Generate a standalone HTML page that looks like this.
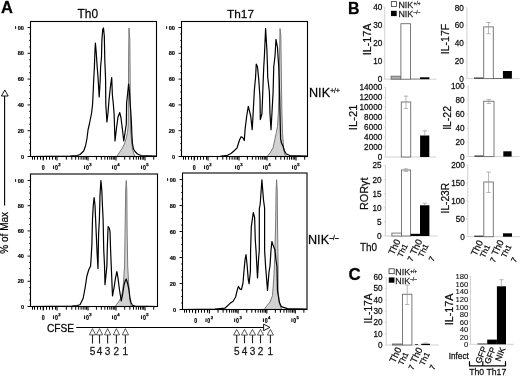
<!DOCTYPE html>
<html><head><meta charset="utf-8"><style>
html,body{margin:0;padding:0;background:#fff;}
body{width:520px;height:376px;overflow:hidden;}
svg{display:block;font-family:"Liberation Sans", sans-serif;will-change:transform;}
text{stroke:#000;stroke-width:0.28px;stroke-opacity:0.8;}
</style></head><body>
<svg width="520" height="376" viewBox="0 0 520 376" font-family='"Liberation Sans", sans-serif'>
<rect width="520" height="376" fill="#fff"/>
<text transform="translate(1.0,13.25)" font-size="16.5" font-weight="bold" fill="#000" >A</text>
<text transform="translate(77.6,18.15)" font-size="11.9" font-weight="normal" fill="#000" >Th0</text>
<text transform="translate(227.05,17.8)" font-size="11.83" font-weight="normal" fill="#000" >Th17</text>
<polygon points="117.00,156.50 118.00,154.50 120.00,151.50 122.50,148.00 124.40,144.00 126.00,139.00 127.50,132.50 128.20,126.00 128.40,100.00 128.60,60.00 129.00,28.00 129.80,40.00 130.10,70.00 130.30,100.00 130.60,130.00 131.50,141.00 132.50,149.00 133.75,153.50 135.00,156.50" fill="#d2d2d2" stroke="#7a7a7a" stroke-width="1" stroke-linejoin="round"/>
<polyline points="30.50,156.50 70.00,156.00 77.00,155.50 80.00,154.50 83.70,151.00 85.60,145.50 86.90,139.00 88.10,129.50 89.40,124.00 90.60,118.00 91.60,113.00 92.50,105.00 92.90,98.00 93.70,80.00 94.40,67.00 95.00,50.00 95.40,43.00 96.20,52.00 97.20,67.00 98.00,77.00 99.20,97.00 100.20,80.00 100.60,67.00 101.50,57.00 101.90,40.00 102.80,29.00 103.50,28.00 104.30,36.00 104.80,60.00 105.30,72.00 105.60,80.00 105.80,104.00 106.90,122.00 108.00,113.00 109.00,100.00 110.50,86.00 111.70,77.50 112.40,95.00 113.40,105.00 114.10,114.00 115.00,141.00 116.50,128.00 118.00,117.00 119.70,112.50 121.00,118.00 122.50,130.00 123.75,141.00 125.00,133.00 126.30,124.00 126.60,103.00 127.60,94.00 128.60,84.00 129.50,92.00 130.00,100.50 131.00,115.00 131.50,124.00 131.80,133.00 132.50,144.00 133.50,149.00 135.00,151.50 137.50,154.00 141.00,155.50 156.50,156.00" fill="none" stroke="#000" stroke-width="1.2" stroke-linejoin="round"/>
<rect x="30.50" y="21.50" width="126.00" height="135.00" fill="none" stroke="#000" stroke-width="1.1"/>
<line x1="27.50" y1="156.50" x2="30.50" y2="156.50" stroke="#000" stroke-width="0.9"/>
<text transform="translate(24.00,158.60) scale(0.85,0.85)" font-size="6.6" text-anchor="end" font-weight="bold" style="stroke-width:0.25px">0</text>
<line x1="29.20" y1="150.05" x2="30.50" y2="150.05" stroke="#000" stroke-width="0.9"/>
<line x1="29.20" y1="143.60" x2="30.50" y2="143.60" stroke="#000" stroke-width="0.9"/>
<line x1="29.20" y1="137.15" x2="30.50" y2="137.15" stroke="#000" stroke-width="0.9"/>
<line x1="27.50" y1="130.70" x2="30.50" y2="130.70" stroke="#000" stroke-width="0.9"/>
<text transform="translate(24.00,132.80) scale(0.85,0.85)" font-size="6.6" text-anchor="end" font-weight="bold" style="stroke-width:0.25px">20</text>
<line x1="29.20" y1="124.25" x2="30.50" y2="124.25" stroke="#000" stroke-width="0.9"/>
<line x1="29.20" y1="117.80" x2="30.50" y2="117.80" stroke="#000" stroke-width="0.9"/>
<line x1="29.20" y1="111.35" x2="30.50" y2="111.35" stroke="#000" stroke-width="0.9"/>
<line x1="27.50" y1="104.90" x2="30.50" y2="104.90" stroke="#000" stroke-width="0.9"/>
<text transform="translate(24.00,107.00) scale(0.85,0.85)" font-size="6.6" text-anchor="end" font-weight="bold" style="stroke-width:0.25px">40</text>
<line x1="29.20" y1="98.45" x2="30.50" y2="98.45" stroke="#000" stroke-width="0.9"/>
<line x1="29.20" y1="92.00" x2="30.50" y2="92.00" stroke="#000" stroke-width="0.9"/>
<line x1="29.20" y1="85.55" x2="30.50" y2="85.55" stroke="#000" stroke-width="0.9"/>
<line x1="27.50" y1="79.10" x2="30.50" y2="79.10" stroke="#000" stroke-width="0.9"/>
<text transform="translate(24.00,81.20) scale(0.85,0.85)" font-size="6.6" text-anchor="end" font-weight="bold" style="stroke-width:0.25px">60</text>
<line x1="29.20" y1="72.65" x2="30.50" y2="72.65" stroke="#000" stroke-width="0.9"/>
<line x1="29.20" y1="66.20" x2="30.50" y2="66.20" stroke="#000" stroke-width="0.9"/>
<line x1="29.20" y1="59.75" x2="30.50" y2="59.75" stroke="#000" stroke-width="0.9"/>
<line x1="27.50" y1="53.30" x2="30.50" y2="53.30" stroke="#000" stroke-width="0.9"/>
<text transform="translate(24.00,55.40) scale(0.85,0.85)" font-size="6.6" text-anchor="end" font-weight="bold" style="stroke-width:0.25px">80</text>
<line x1="29.20" y1="46.85" x2="30.50" y2="46.85" stroke="#000" stroke-width="0.9"/>
<line x1="29.20" y1="40.40" x2="30.50" y2="40.40" stroke="#000" stroke-width="0.9"/>
<line x1="29.20" y1="33.95" x2="30.50" y2="33.95" stroke="#000" stroke-width="0.9"/>
<line x1="27.50" y1="27.50" x2="30.50" y2="27.50" stroke="#000" stroke-width="0.9"/>
<text transform="translate(24.00,29.60) scale(0.85,0.85)" font-size="6.6" text-anchor="end" font-weight="bold" style="stroke-width:0.25px">00</text>
<rect x="15.10" y="26.20" width="1" height="2.6" fill="#000"/>
<line x1="43.20" y1="156.50" x2="43.20" y2="160.50" stroke="#000" stroke-width="1.1"/>
<line x1="57.00" y1="156.50" x2="57.00" y2="160.50" stroke="#000" stroke-width="1.1"/>
<line x1="88.00" y1="156.50" x2="88.00" y2="160.50" stroke="#000" stroke-width="1.1"/>
<line x1="116.00" y1="156.50" x2="116.00" y2="160.50" stroke="#000" stroke-width="1.1"/>
<line x1="145.00" y1="156.50" x2="145.00" y2="160.50" stroke="#000" stroke-width="1.1"/>
<line x1="28.00" y1="156.50" x2="30.50" y2="156.50" stroke="#000" stroke-width="1"/>
<line x1="66.33" y1="156.50" x2="66.33" y2="159.70" stroke="#000" stroke-width="1"/>
<line x1="71.79" y1="156.50" x2="71.79" y2="159.70" stroke="#000" stroke-width="1"/>
<line x1="75.66" y1="156.50" x2="75.66" y2="159.70" stroke="#000" stroke-width="1"/>
<line x1="78.67" y1="156.50" x2="78.67" y2="159.70" stroke="#000" stroke-width="1"/>
<line x1="81.12" y1="156.50" x2="81.12" y2="159.70" stroke="#000" stroke-width="1"/>
<line x1="83.20" y1="156.50" x2="83.20" y2="159.70" stroke="#000" stroke-width="1"/>
<line x1="85.00" y1="156.50" x2="85.00" y2="159.70" stroke="#000" stroke-width="1"/>
<line x1="86.58" y1="156.50" x2="86.58" y2="159.70" stroke="#000" stroke-width="1"/>
<line x1="96.43" y1="156.50" x2="96.43" y2="159.70" stroke="#000" stroke-width="1"/>
<line x1="101.36" y1="156.50" x2="101.36" y2="159.70" stroke="#000" stroke-width="1"/>
<line x1="104.86" y1="156.50" x2="104.86" y2="159.70" stroke="#000" stroke-width="1"/>
<line x1="107.57" y1="156.50" x2="107.57" y2="159.70" stroke="#000" stroke-width="1"/>
<line x1="109.79" y1="156.50" x2="109.79" y2="159.70" stroke="#000" stroke-width="1"/>
<line x1="111.66" y1="156.50" x2="111.66" y2="159.70" stroke="#000" stroke-width="1"/>
<line x1="113.29" y1="156.50" x2="113.29" y2="159.70" stroke="#000" stroke-width="1"/>
<line x1="114.72" y1="156.50" x2="114.72" y2="159.70" stroke="#000" stroke-width="1"/>
<line x1="124.73" y1="156.50" x2="124.73" y2="159.70" stroke="#000" stroke-width="1"/>
<line x1="129.84" y1="156.50" x2="129.84" y2="159.70" stroke="#000" stroke-width="1"/>
<line x1="133.46" y1="156.50" x2="133.46" y2="159.70" stroke="#000" stroke-width="1"/>
<line x1="136.27" y1="156.50" x2="136.27" y2="159.70" stroke="#000" stroke-width="1"/>
<line x1="138.57" y1="156.50" x2="138.57" y2="159.70" stroke="#000" stroke-width="1"/>
<line x1="140.51" y1="156.50" x2="140.51" y2="159.70" stroke="#000" stroke-width="1"/>
<line x1="142.19" y1="156.50" x2="142.19" y2="159.70" stroke="#000" stroke-width="1"/>
<line x1="143.67" y1="156.50" x2="143.67" y2="159.70" stroke="#000" stroke-width="1"/>
<line x1="153.73" y1="156.50" x2="153.73" y2="159.70" stroke="#000" stroke-width="1"/>
<line x1="32.50" y1="156.50" x2="32.50" y2="159.70" stroke="#000" stroke-width="1"/>
<line x1="34.50" y1="156.50" x2="34.50" y2="159.70" stroke="#000" stroke-width="1"/>
<line x1="37.50" y1="156.50" x2="37.50" y2="159.70" stroke="#000" stroke-width="1"/>
<line x1="40.50" y1="156.50" x2="40.50" y2="159.70" stroke="#000" stroke-width="1"/>
<line x1="43.50" y1="156.50" x2="43.50" y2="159.70" stroke="#000" stroke-width="1"/>
<line x1="46.50" y1="156.50" x2="46.50" y2="159.70" stroke="#000" stroke-width="1"/>
<line x1="49.50" y1="156.50" x2="49.50" y2="159.70" stroke="#000" stroke-width="1"/>
<line x1="52.50" y1="156.50" x2="52.50" y2="159.70" stroke="#000" stroke-width="1"/>
<line x1="55.50" y1="156.50" x2="55.50" y2="159.70" stroke="#000" stroke-width="1"/>
<text transform="translate(43.20,169.90) scale(0.8,0.97)" font-size="6.6" text-anchor="middle" font-weight="bold" style="stroke-width:0.25px">0</text>
<text transform="translate(57.90,169.90) scale(0.8,0.97)" font-size="6.6" text-anchor="end" font-weight="bold" style="stroke-width:0.25px">0</text>
<rect x="53.10" y="165.40" width="1" height="3.6" fill="#000"/>
<text x="58.30" y="165.90" font-size="4.2" font-weight="bold" style="stroke-width:0.25px">2</text>
<text transform="translate(88.90,169.90) scale(0.8,0.97)" font-size="6.6" text-anchor="end" font-weight="bold" style="stroke-width:0.25px">0</text>
<rect x="84.10" y="165.40" width="1" height="3.6" fill="#000"/>
<text x="89.30" y="165.90" font-size="4.2" font-weight="bold" style="stroke-width:0.25px">3</text>
<text transform="translate(116.90,169.90) scale(0.8,0.97)" font-size="6.6" text-anchor="end" font-weight="bold" style="stroke-width:0.25px">0</text>
<rect x="112.10" y="165.40" width="1" height="3.6" fill="#000"/>
<text x="117.30" y="165.90" font-size="4.2" font-weight="bold" style="stroke-width:0.25px">4</text>
<text transform="translate(145.90,169.90) scale(0.8,0.97)" font-size="6.6" text-anchor="end" font-weight="bold" style="stroke-width:0.25px">0</text>
<rect x="141.10" y="165.40" width="1" height="3.6" fill="#000"/>
<text x="146.30" y="165.90" font-size="4.2" font-weight="bold" style="stroke-width:0.25px">5</text>
<polygon points="267.00,156.50 268.10,155.30 270.00,153.00 273.00,148.00 276.25,132.75 277.50,126.50 278.50,110.00 279.30,70.00 280.00,28.50 280.80,35.00 281.30,70.00 281.90,114.00 282.50,132.75 283.75,150.00 285.00,155.00 287.00,156.50" fill="#d2d2d2" stroke="#7a7a7a" stroke-width="1" stroke-linejoin="round"/>
<polyline points="181.50,156.50 220.00,156.30 227.50,155.30 231.00,153.50 233.90,151.00 237.10,147.80 239.50,140.00 241.10,136.70 242.70,137.50 244.30,140.50 245.10,129.00 246.70,116.00 248.30,106.40 250.70,116.00 252.20,129.60 253.10,114.00 253.75,102.00 254.40,89.50 255.60,77.00 256.25,64.00 257.50,67.00 258.75,79.50 260.00,98.00 260.30,119.60 261.90,114.00 262.50,100.00 263.10,83.00 263.75,67.00 264.40,56.00 265.60,28.50 266.90,50.00 267.50,67.00 267.70,77.00 269.40,92.00 270.00,114.00 271.00,129.60 271.90,114.00 273.10,92.00 273.75,67.00 275.00,56.00 276.00,39.40 277.50,47.50 278.10,57.50 278.75,67.00 279.40,86.00 280.00,114.00 280.60,139.00 281.50,143.00 283.10,146.50 284.50,151.00 286.25,154.00 290.00,155.50 307.50,156.00" fill="none" stroke="#000" stroke-width="1.2" stroke-linejoin="round"/>
<rect x="181.50" y="21.50" width="126.00" height="135.00" fill="none" stroke="#000" stroke-width="1.1"/>
<line x1="178.50" y1="156.50" x2="181.50" y2="156.50" stroke="#000" stroke-width="0.9"/>
<text transform="translate(175.00,158.60) scale(0.85,0.85)" font-size="6.6" text-anchor="end" font-weight="bold" style="stroke-width:0.25px">0</text>
<line x1="180.20" y1="150.05" x2="181.50" y2="150.05" stroke="#000" stroke-width="0.9"/>
<line x1="180.20" y1="143.60" x2="181.50" y2="143.60" stroke="#000" stroke-width="0.9"/>
<line x1="180.20" y1="137.15" x2="181.50" y2="137.15" stroke="#000" stroke-width="0.9"/>
<line x1="178.50" y1="130.70" x2="181.50" y2="130.70" stroke="#000" stroke-width="0.9"/>
<text transform="translate(175.00,132.80) scale(0.85,0.85)" font-size="6.6" text-anchor="end" font-weight="bold" style="stroke-width:0.25px">20</text>
<line x1="180.20" y1="124.25" x2="181.50" y2="124.25" stroke="#000" stroke-width="0.9"/>
<line x1="180.20" y1="117.80" x2="181.50" y2="117.80" stroke="#000" stroke-width="0.9"/>
<line x1="180.20" y1="111.35" x2="181.50" y2="111.35" stroke="#000" stroke-width="0.9"/>
<line x1="178.50" y1="104.90" x2="181.50" y2="104.90" stroke="#000" stroke-width="0.9"/>
<text transform="translate(175.00,107.00) scale(0.85,0.85)" font-size="6.6" text-anchor="end" font-weight="bold" style="stroke-width:0.25px">40</text>
<line x1="180.20" y1="98.45" x2="181.50" y2="98.45" stroke="#000" stroke-width="0.9"/>
<line x1="180.20" y1="92.00" x2="181.50" y2="92.00" stroke="#000" stroke-width="0.9"/>
<line x1="180.20" y1="85.55" x2="181.50" y2="85.55" stroke="#000" stroke-width="0.9"/>
<line x1="178.50" y1="79.10" x2="181.50" y2="79.10" stroke="#000" stroke-width="0.9"/>
<text transform="translate(175.00,81.20) scale(0.85,0.85)" font-size="6.6" text-anchor="end" font-weight="bold" style="stroke-width:0.25px">60</text>
<line x1="180.20" y1="72.65" x2="181.50" y2="72.65" stroke="#000" stroke-width="0.9"/>
<line x1="180.20" y1="66.20" x2="181.50" y2="66.20" stroke="#000" stroke-width="0.9"/>
<line x1="180.20" y1="59.75" x2="181.50" y2="59.75" stroke="#000" stroke-width="0.9"/>
<line x1="178.50" y1="53.30" x2="181.50" y2="53.30" stroke="#000" stroke-width="0.9"/>
<text transform="translate(175.00,55.40) scale(0.85,0.85)" font-size="6.6" text-anchor="end" font-weight="bold" style="stroke-width:0.25px">80</text>
<line x1="180.20" y1="46.85" x2="181.50" y2="46.85" stroke="#000" stroke-width="0.9"/>
<line x1="180.20" y1="40.40" x2="181.50" y2="40.40" stroke="#000" stroke-width="0.9"/>
<line x1="180.20" y1="33.95" x2="181.50" y2="33.95" stroke="#000" stroke-width="0.9"/>
<line x1="178.50" y1="27.50" x2="181.50" y2="27.50" stroke="#000" stroke-width="0.9"/>
<text transform="translate(175.00,29.60) scale(0.85,0.85)" font-size="6.6" text-anchor="end" font-weight="bold" style="stroke-width:0.25px">00</text>
<rect x="166.10" y="26.20" width="1" height="2.6" fill="#000"/>
<line x1="194.20" y1="156.50" x2="194.20" y2="160.50" stroke="#000" stroke-width="1.1"/>
<line x1="208.00" y1="156.50" x2="208.00" y2="160.50" stroke="#000" stroke-width="1.1"/>
<line x1="239.00" y1="156.50" x2="239.00" y2="160.50" stroke="#000" stroke-width="1.1"/>
<line x1="267.00" y1="156.50" x2="267.00" y2="160.50" stroke="#000" stroke-width="1.1"/>
<line x1="296.00" y1="156.50" x2="296.00" y2="160.50" stroke="#000" stroke-width="1.1"/>
<line x1="179.00" y1="156.50" x2="181.50" y2="156.50" stroke="#000" stroke-width="1"/>
<line x1="217.33" y1="156.50" x2="217.33" y2="159.70" stroke="#000" stroke-width="1"/>
<line x1="222.79" y1="156.50" x2="222.79" y2="159.70" stroke="#000" stroke-width="1"/>
<line x1="226.66" y1="156.50" x2="226.66" y2="159.70" stroke="#000" stroke-width="1"/>
<line x1="229.67" y1="156.50" x2="229.67" y2="159.70" stroke="#000" stroke-width="1"/>
<line x1="232.12" y1="156.50" x2="232.12" y2="159.70" stroke="#000" stroke-width="1"/>
<line x1="234.20" y1="156.50" x2="234.20" y2="159.70" stroke="#000" stroke-width="1"/>
<line x1="236.00" y1="156.50" x2="236.00" y2="159.70" stroke="#000" stroke-width="1"/>
<line x1="237.58" y1="156.50" x2="237.58" y2="159.70" stroke="#000" stroke-width="1"/>
<line x1="247.43" y1="156.50" x2="247.43" y2="159.70" stroke="#000" stroke-width="1"/>
<line x1="252.36" y1="156.50" x2="252.36" y2="159.70" stroke="#000" stroke-width="1"/>
<line x1="255.86" y1="156.50" x2="255.86" y2="159.70" stroke="#000" stroke-width="1"/>
<line x1="258.57" y1="156.50" x2="258.57" y2="159.70" stroke="#000" stroke-width="1"/>
<line x1="260.79" y1="156.50" x2="260.79" y2="159.70" stroke="#000" stroke-width="1"/>
<line x1="262.66" y1="156.50" x2="262.66" y2="159.70" stroke="#000" stroke-width="1"/>
<line x1="264.29" y1="156.50" x2="264.29" y2="159.70" stroke="#000" stroke-width="1"/>
<line x1="265.72" y1="156.50" x2="265.72" y2="159.70" stroke="#000" stroke-width="1"/>
<line x1="275.73" y1="156.50" x2="275.73" y2="159.70" stroke="#000" stroke-width="1"/>
<line x1="280.84" y1="156.50" x2="280.84" y2="159.70" stroke="#000" stroke-width="1"/>
<line x1="284.46" y1="156.50" x2="284.46" y2="159.70" stroke="#000" stroke-width="1"/>
<line x1="287.27" y1="156.50" x2="287.27" y2="159.70" stroke="#000" stroke-width="1"/>
<line x1="289.57" y1="156.50" x2="289.57" y2="159.70" stroke="#000" stroke-width="1"/>
<line x1="291.51" y1="156.50" x2="291.51" y2="159.70" stroke="#000" stroke-width="1"/>
<line x1="293.19" y1="156.50" x2="293.19" y2="159.70" stroke="#000" stroke-width="1"/>
<line x1="294.67" y1="156.50" x2="294.67" y2="159.70" stroke="#000" stroke-width="1"/>
<line x1="304.73" y1="156.50" x2="304.73" y2="159.70" stroke="#000" stroke-width="1"/>
<line x1="183.50" y1="156.50" x2="183.50" y2="159.70" stroke="#000" stroke-width="1"/>
<line x1="185.50" y1="156.50" x2="185.50" y2="159.70" stroke="#000" stroke-width="1"/>
<line x1="188.50" y1="156.50" x2="188.50" y2="159.70" stroke="#000" stroke-width="1"/>
<line x1="191.50" y1="156.50" x2="191.50" y2="159.70" stroke="#000" stroke-width="1"/>
<line x1="194.50" y1="156.50" x2="194.50" y2="159.70" stroke="#000" stroke-width="1"/>
<line x1="197.50" y1="156.50" x2="197.50" y2="159.70" stroke="#000" stroke-width="1"/>
<line x1="200.50" y1="156.50" x2="200.50" y2="159.70" stroke="#000" stroke-width="1"/>
<line x1="203.50" y1="156.50" x2="203.50" y2="159.70" stroke="#000" stroke-width="1"/>
<line x1="206.50" y1="156.50" x2="206.50" y2="159.70" stroke="#000" stroke-width="1"/>
<text transform="translate(194.20,169.90) scale(0.8,0.97)" font-size="6.6" text-anchor="middle" font-weight="bold" style="stroke-width:0.25px">0</text>
<text transform="translate(208.90,169.90) scale(0.8,0.97)" font-size="6.6" text-anchor="end" font-weight="bold" style="stroke-width:0.25px">0</text>
<rect x="204.10" y="165.40" width="1" height="3.6" fill="#000"/>
<text x="209.30" y="165.90" font-size="4.2" font-weight="bold" style="stroke-width:0.25px">2</text>
<text transform="translate(239.90,169.90) scale(0.8,0.97)" font-size="6.6" text-anchor="end" font-weight="bold" style="stroke-width:0.25px">0</text>
<rect x="235.10" y="165.40" width="1" height="3.6" fill="#000"/>
<text x="240.30" y="165.90" font-size="4.2" font-weight="bold" style="stroke-width:0.25px">3</text>
<text transform="translate(267.90,169.90) scale(0.8,0.97)" font-size="6.6" text-anchor="end" font-weight="bold" style="stroke-width:0.25px">0</text>
<rect x="263.10" y="165.40" width="1" height="3.6" fill="#000"/>
<text x="268.30" y="165.90" font-size="4.2" font-weight="bold" style="stroke-width:0.25px">4</text>
<text transform="translate(296.90,169.90) scale(0.8,0.97)" font-size="6.6" text-anchor="end" font-weight="bold" style="stroke-width:0.25px">0</text>
<rect x="292.10" y="165.40" width="1" height="3.6" fill="#000"/>
<text x="297.30" y="165.90" font-size="4.2" font-weight="bold" style="stroke-width:0.25px">5</text>
<polygon points="115.50,306.50 116.25,304.75 118.50,302.00 121.25,297.25 122.50,291.00 123.40,283.50 124.60,266.00 125.10,230.00 125.70,190.00 126.25,180.50 126.80,190.00 127.10,230.00 127.70,266.00 128.50,281.00 129.30,292.00 130.00,300.00 130.60,304.75 131.50,306.50" fill="#d2d2d2" stroke="#7a7a7a" stroke-width="1" stroke-linejoin="round"/>
<polyline points="30.50,306.50 72.00,306.20 77.00,305.50 80.00,304.75 83.10,298.50 85.00,288.50 86.90,276.00 88.75,269.75 90.60,266.00 91.30,255.00 91.90,244.00 92.50,219.00 93.30,205.00 94.10,197.60 95.00,205.00 95.60,219.00 96.25,234.00 97.20,255.00 98.00,268.50 98.30,250.00 98.60,234.00 99.40,219.00 100.00,195.00 100.90,180.50 101.80,190.00 102.40,205.00 103.10,219.00 103.75,250.00 104.50,265.00 105.00,284.75 106.00,275.00 106.90,266.00 107.40,245.00 108.10,226.50 109.30,228.00 110.00,231.50 110.60,250.00 111.25,266.00 112.50,296.00 114.00,288.00 115.50,278.00 116.90,271.60 118.00,278.00 119.50,290.00 121.25,301.00 122.50,295.00 124.00,285.00 125.50,280.00 126.25,279.00 127.50,283.00 128.75,288.50 130.00,298.50 131.00,302.50 132.50,305.20 135.00,306.00 157.50,306.50" fill="none" stroke="#000" stroke-width="1.2" stroke-linejoin="round"/>
<rect x="30.50" y="174.00" width="127.00" height="132.50" fill="none" stroke="#000" stroke-width="1.1"/>
<line x1="27.50" y1="306.50" x2="30.50" y2="306.50" stroke="#000" stroke-width="0.9"/>
<text transform="translate(24.00,308.60) scale(0.85,0.85)" font-size="6.6" text-anchor="end" font-weight="bold" style="stroke-width:0.25px">0</text>
<line x1="29.20" y1="300.20" x2="30.50" y2="300.20" stroke="#000" stroke-width="0.9"/>
<line x1="29.20" y1="293.90" x2="30.50" y2="293.90" stroke="#000" stroke-width="0.9"/>
<line x1="29.20" y1="287.60" x2="30.50" y2="287.60" stroke="#000" stroke-width="0.9"/>
<line x1="27.50" y1="281.30" x2="30.50" y2="281.30" stroke="#000" stroke-width="0.9"/>
<text transform="translate(24.00,283.40) scale(0.85,0.85)" font-size="6.6" text-anchor="end" font-weight="bold" style="stroke-width:0.25px">20</text>
<line x1="29.20" y1="275.00" x2="30.50" y2="275.00" stroke="#000" stroke-width="0.9"/>
<line x1="29.20" y1="268.70" x2="30.50" y2="268.70" stroke="#000" stroke-width="0.9"/>
<line x1="29.20" y1="262.40" x2="30.50" y2="262.40" stroke="#000" stroke-width="0.9"/>
<line x1="27.50" y1="256.10" x2="30.50" y2="256.10" stroke="#000" stroke-width="0.9"/>
<text transform="translate(24.00,258.20) scale(0.85,0.85)" font-size="6.6" text-anchor="end" font-weight="bold" style="stroke-width:0.25px">40</text>
<line x1="29.20" y1="249.80" x2="30.50" y2="249.80" stroke="#000" stroke-width="0.9"/>
<line x1="29.20" y1="243.50" x2="30.50" y2="243.50" stroke="#000" stroke-width="0.9"/>
<line x1="29.20" y1="237.20" x2="30.50" y2="237.20" stroke="#000" stroke-width="0.9"/>
<line x1="27.50" y1="230.90" x2="30.50" y2="230.90" stroke="#000" stroke-width="0.9"/>
<text transform="translate(24.00,233.00) scale(0.85,0.85)" font-size="6.6" text-anchor="end" font-weight="bold" style="stroke-width:0.25px">60</text>
<line x1="29.20" y1="224.60" x2="30.50" y2="224.60" stroke="#000" stroke-width="0.9"/>
<line x1="29.20" y1="218.30" x2="30.50" y2="218.30" stroke="#000" stroke-width="0.9"/>
<line x1="29.20" y1="212.00" x2="30.50" y2="212.00" stroke="#000" stroke-width="0.9"/>
<line x1="27.50" y1="205.70" x2="30.50" y2="205.70" stroke="#000" stroke-width="0.9"/>
<text transform="translate(24.00,207.80) scale(0.85,0.85)" font-size="6.6" text-anchor="end" font-weight="bold" style="stroke-width:0.25px">80</text>
<line x1="29.20" y1="199.40" x2="30.50" y2="199.40" stroke="#000" stroke-width="0.9"/>
<line x1="29.20" y1="193.10" x2="30.50" y2="193.10" stroke="#000" stroke-width="0.9"/>
<line x1="29.20" y1="186.80" x2="30.50" y2="186.80" stroke="#000" stroke-width="0.9"/>
<line x1="27.50" y1="180.50" x2="30.50" y2="180.50" stroke="#000" stroke-width="0.9"/>
<text transform="translate(24.00,182.60) scale(0.85,0.85)" font-size="6.6" text-anchor="end" font-weight="bold" style="stroke-width:0.25px">00</text>
<rect x="15.10" y="179.20" width="1" height="2.6" fill="#000"/>
<line x1="43.20" y1="306.50" x2="43.20" y2="310.50" stroke="#000" stroke-width="1.1"/>
<line x1="57.00" y1="306.50" x2="57.00" y2="310.50" stroke="#000" stroke-width="1.1"/>
<line x1="88.00" y1="306.50" x2="88.00" y2="310.50" stroke="#000" stroke-width="1.1"/>
<line x1="116.00" y1="306.50" x2="116.00" y2="310.50" stroke="#000" stroke-width="1.1"/>
<line x1="145.00" y1="306.50" x2="145.00" y2="310.50" stroke="#000" stroke-width="1.1"/>
<line x1="28.00" y1="306.50" x2="30.50" y2="306.50" stroke="#000" stroke-width="1"/>
<line x1="66.33" y1="306.50" x2="66.33" y2="309.70" stroke="#000" stroke-width="1"/>
<line x1="71.79" y1="306.50" x2="71.79" y2="309.70" stroke="#000" stroke-width="1"/>
<line x1="75.66" y1="306.50" x2="75.66" y2="309.70" stroke="#000" stroke-width="1"/>
<line x1="78.67" y1="306.50" x2="78.67" y2="309.70" stroke="#000" stroke-width="1"/>
<line x1="81.12" y1="306.50" x2="81.12" y2="309.70" stroke="#000" stroke-width="1"/>
<line x1="83.20" y1="306.50" x2="83.20" y2="309.70" stroke="#000" stroke-width="1"/>
<line x1="85.00" y1="306.50" x2="85.00" y2="309.70" stroke="#000" stroke-width="1"/>
<line x1="86.58" y1="306.50" x2="86.58" y2="309.70" stroke="#000" stroke-width="1"/>
<line x1="96.43" y1="306.50" x2="96.43" y2="309.70" stroke="#000" stroke-width="1"/>
<line x1="101.36" y1="306.50" x2="101.36" y2="309.70" stroke="#000" stroke-width="1"/>
<line x1="104.86" y1="306.50" x2="104.86" y2="309.70" stroke="#000" stroke-width="1"/>
<line x1="107.57" y1="306.50" x2="107.57" y2="309.70" stroke="#000" stroke-width="1"/>
<line x1="109.79" y1="306.50" x2="109.79" y2="309.70" stroke="#000" stroke-width="1"/>
<line x1="111.66" y1="306.50" x2="111.66" y2="309.70" stroke="#000" stroke-width="1"/>
<line x1="113.29" y1="306.50" x2="113.29" y2="309.70" stroke="#000" stroke-width="1"/>
<line x1="114.72" y1="306.50" x2="114.72" y2="309.70" stroke="#000" stroke-width="1"/>
<line x1="124.73" y1="306.50" x2="124.73" y2="309.70" stroke="#000" stroke-width="1"/>
<line x1="129.84" y1="306.50" x2="129.84" y2="309.70" stroke="#000" stroke-width="1"/>
<line x1="133.46" y1="306.50" x2="133.46" y2="309.70" stroke="#000" stroke-width="1"/>
<line x1="136.27" y1="306.50" x2="136.27" y2="309.70" stroke="#000" stroke-width="1"/>
<line x1="138.57" y1="306.50" x2="138.57" y2="309.70" stroke="#000" stroke-width="1"/>
<line x1="140.51" y1="306.50" x2="140.51" y2="309.70" stroke="#000" stroke-width="1"/>
<line x1="142.19" y1="306.50" x2="142.19" y2="309.70" stroke="#000" stroke-width="1"/>
<line x1="143.67" y1="306.50" x2="143.67" y2="309.70" stroke="#000" stroke-width="1"/>
<line x1="153.73" y1="306.50" x2="153.73" y2="309.70" stroke="#000" stroke-width="1"/>
<line x1="32.50" y1="306.50" x2="32.50" y2="309.70" stroke="#000" stroke-width="1"/>
<line x1="34.50" y1="306.50" x2="34.50" y2="309.70" stroke="#000" stroke-width="1"/>
<line x1="37.50" y1="306.50" x2="37.50" y2="309.70" stroke="#000" stroke-width="1"/>
<line x1="40.50" y1="306.50" x2="40.50" y2="309.70" stroke="#000" stroke-width="1"/>
<line x1="43.50" y1="306.50" x2="43.50" y2="309.70" stroke="#000" stroke-width="1"/>
<line x1="46.50" y1="306.50" x2="46.50" y2="309.70" stroke="#000" stroke-width="1"/>
<line x1="49.50" y1="306.50" x2="49.50" y2="309.70" stroke="#000" stroke-width="1"/>
<line x1="52.50" y1="306.50" x2="52.50" y2="309.70" stroke="#000" stroke-width="1"/>
<line x1="55.50" y1="306.50" x2="55.50" y2="309.70" stroke="#000" stroke-width="1"/>
<text transform="translate(43.20,319.90) scale(0.8,0.97)" font-size="6.6" text-anchor="middle" font-weight="bold" style="stroke-width:0.25px">0</text>
<text transform="translate(57.90,319.90) scale(0.8,0.97)" font-size="6.6" text-anchor="end" font-weight="bold" style="stroke-width:0.25px">0</text>
<rect x="53.10" y="315.40" width="1" height="3.6" fill="#000"/>
<text x="58.30" y="315.90" font-size="4.2" font-weight="bold" style="stroke-width:0.25px">2</text>
<text transform="translate(88.90,319.90) scale(0.8,0.97)" font-size="6.6" text-anchor="end" font-weight="bold" style="stroke-width:0.25px">0</text>
<rect x="84.10" y="315.40" width="1" height="3.6" fill="#000"/>
<text x="89.30" y="315.90" font-size="4.2" font-weight="bold" style="stroke-width:0.25px">3</text>
<text transform="translate(116.90,319.90) scale(0.8,0.97)" font-size="6.6" text-anchor="end" font-weight="bold" style="stroke-width:0.25px">0</text>
<rect x="112.10" y="315.40" width="1" height="3.6" fill="#000"/>
<text x="117.30" y="315.90" font-size="4.2" font-weight="bold" style="stroke-width:0.25px">4</text>
<text transform="translate(145.90,319.90) scale(0.8,0.97)" font-size="6.6" text-anchor="end" font-weight="bold" style="stroke-width:0.25px">0</text>
<rect x="141.10" y="315.40" width="1" height="3.6" fill="#000"/>
<text x="146.30" y="315.90" font-size="4.2" font-weight="bold" style="stroke-width:0.25px">5</text>
<polygon points="265.00,309.50 265.00,308.00 270.00,302.00 272.50,295.50 273.75,278.50 274.40,266.00 275.50,230.00 276.10,190.00 276.60,179.75 277.20,190.00 277.60,230.00 278.10,266.00 278.10,291.00 279.40,303.50 281.00,308.00 282.00,309.50" fill="#d2d2d2" stroke="#7a7a7a" stroke-width="1" stroke-linejoin="round"/>
<polyline points="182.50,309.50 215.00,309.20 224.90,308.20 229.80,303.60 233.10,301.20 235.60,297.00 237.20,290.40 238.40,286.30 239.70,288.80 241.40,289.60 243.00,283.00 243.80,273.00 245.00,260.00 246.00,254.60 247.10,265.00 248.30,279.70 249.10,283.80 250.40,271.50 250.60,250.00 251.30,226.60 253.30,212.60 254.60,217.30 255.30,240.00 256.00,250.00 256.80,265.00 257.50,277.90 258.50,260.00 259.30,250.00 259.30,209.00 260.20,204.00 261.90,179.75 263.50,200.00 264.60,208.00 264.60,250.00 265.50,265.00 267.50,290.40 269.00,272.00 270.00,266.00 271.00,250.00 271.90,241.50 273.00,245.00 275.00,250.00 276.00,260.00 276.90,266.00 277.50,291.00 279.40,302.25 281.25,306.60 287.50,308.60 307.00,309.00" fill="none" stroke="#000" stroke-width="1.2" stroke-linejoin="round"/>
<rect x="182.50" y="173.00" width="124.50" height="136.50" fill="none" stroke="#000" stroke-width="1.1"/>
<line x1="179.50" y1="309.50" x2="182.50" y2="309.50" stroke="#000" stroke-width="0.9"/>
<text transform="translate(176.00,311.60) scale(0.85,0.85)" font-size="6.6" text-anchor="end" font-weight="bold" style="stroke-width:0.25px">0</text>
<line x1="181.20" y1="303.00" x2="182.50" y2="303.00" stroke="#000" stroke-width="0.9"/>
<line x1="181.20" y1="296.50" x2="182.50" y2="296.50" stroke="#000" stroke-width="0.9"/>
<line x1="181.20" y1="290.00" x2="182.50" y2="290.00" stroke="#000" stroke-width="0.9"/>
<line x1="179.50" y1="283.50" x2="182.50" y2="283.50" stroke="#000" stroke-width="0.9"/>
<text transform="translate(176.00,285.60) scale(0.85,0.85)" font-size="6.6" text-anchor="end" font-weight="bold" style="stroke-width:0.25px">20</text>
<line x1="181.20" y1="277.00" x2="182.50" y2="277.00" stroke="#000" stroke-width="0.9"/>
<line x1="181.20" y1="270.50" x2="182.50" y2="270.50" stroke="#000" stroke-width="0.9"/>
<line x1="181.20" y1="264.00" x2="182.50" y2="264.00" stroke="#000" stroke-width="0.9"/>
<line x1="179.50" y1="257.50" x2="182.50" y2="257.50" stroke="#000" stroke-width="0.9"/>
<text transform="translate(176.00,259.60) scale(0.85,0.85)" font-size="6.6" text-anchor="end" font-weight="bold" style="stroke-width:0.25px">40</text>
<line x1="181.20" y1="251.00" x2="182.50" y2="251.00" stroke="#000" stroke-width="0.9"/>
<line x1="181.20" y1="244.50" x2="182.50" y2="244.50" stroke="#000" stroke-width="0.9"/>
<line x1="181.20" y1="238.00" x2="182.50" y2="238.00" stroke="#000" stroke-width="0.9"/>
<line x1="179.50" y1="231.50" x2="182.50" y2="231.50" stroke="#000" stroke-width="0.9"/>
<text transform="translate(176.00,233.60) scale(0.85,0.85)" font-size="6.6" text-anchor="end" font-weight="bold" style="stroke-width:0.25px">60</text>
<line x1="181.20" y1="225.00" x2="182.50" y2="225.00" stroke="#000" stroke-width="0.9"/>
<line x1="181.20" y1="218.50" x2="182.50" y2="218.50" stroke="#000" stroke-width="0.9"/>
<line x1="181.20" y1="212.00" x2="182.50" y2="212.00" stroke="#000" stroke-width="0.9"/>
<line x1="179.50" y1="205.50" x2="182.50" y2="205.50" stroke="#000" stroke-width="0.9"/>
<text transform="translate(176.00,207.60) scale(0.85,0.85)" font-size="6.6" text-anchor="end" font-weight="bold" style="stroke-width:0.25px">80</text>
<line x1="181.20" y1="199.00" x2="182.50" y2="199.00" stroke="#000" stroke-width="0.9"/>
<line x1="181.20" y1="192.50" x2="182.50" y2="192.50" stroke="#000" stroke-width="0.9"/>
<line x1="181.20" y1="186.00" x2="182.50" y2="186.00" stroke="#000" stroke-width="0.9"/>
<line x1="179.50" y1="179.50" x2="182.50" y2="179.50" stroke="#000" stroke-width="0.9"/>
<text transform="translate(176.00,181.60) scale(0.85,0.85)" font-size="6.6" text-anchor="end" font-weight="bold" style="stroke-width:0.25px">00</text>
<rect x="167.10" y="178.20" width="1" height="2.6" fill="#000"/>
<line x1="195.60" y1="309.50" x2="195.60" y2="313.50" stroke="#000" stroke-width="1.1"/>
<line x1="209.40" y1="309.50" x2="209.40" y2="313.50" stroke="#000" stroke-width="1.1"/>
<line x1="238.10" y1="309.50" x2="238.10" y2="313.50" stroke="#000" stroke-width="1.1"/>
<line x1="266.80" y1="309.50" x2="266.80" y2="313.50" stroke="#000" stroke-width="1.1"/>
<line x1="295.30" y1="309.50" x2="295.30" y2="313.50" stroke="#000" stroke-width="1.1"/>
<line x1="180.00" y1="309.50" x2="182.50" y2="309.50" stroke="#000" stroke-width="1"/>
<line x1="218.04" y1="309.50" x2="218.04" y2="312.70" stroke="#000" stroke-width="1"/>
<line x1="223.09" y1="309.50" x2="223.09" y2="312.70" stroke="#000" stroke-width="1"/>
<line x1="226.68" y1="309.50" x2="226.68" y2="312.70" stroke="#000" stroke-width="1"/>
<line x1="229.46" y1="309.50" x2="229.46" y2="312.70" stroke="#000" stroke-width="1"/>
<line x1="231.73" y1="309.50" x2="231.73" y2="312.70" stroke="#000" stroke-width="1"/>
<line x1="233.65" y1="309.50" x2="233.65" y2="312.70" stroke="#000" stroke-width="1"/>
<line x1="235.32" y1="309.50" x2="235.32" y2="312.70" stroke="#000" stroke-width="1"/>
<line x1="236.79" y1="309.50" x2="236.79" y2="312.70" stroke="#000" stroke-width="1"/>
<line x1="246.74" y1="309.50" x2="246.74" y2="312.70" stroke="#000" stroke-width="1"/>
<line x1="251.79" y1="309.50" x2="251.79" y2="312.70" stroke="#000" stroke-width="1"/>
<line x1="255.38" y1="309.50" x2="255.38" y2="312.70" stroke="#000" stroke-width="1"/>
<line x1="258.16" y1="309.50" x2="258.16" y2="312.70" stroke="#000" stroke-width="1"/>
<line x1="260.43" y1="309.50" x2="260.43" y2="312.70" stroke="#000" stroke-width="1"/>
<line x1="262.35" y1="309.50" x2="262.35" y2="312.70" stroke="#000" stroke-width="1"/>
<line x1="264.02" y1="309.50" x2="264.02" y2="312.70" stroke="#000" stroke-width="1"/>
<line x1="265.49" y1="309.50" x2="265.49" y2="312.70" stroke="#000" stroke-width="1"/>
<line x1="275.38" y1="309.50" x2="275.38" y2="312.70" stroke="#000" stroke-width="1"/>
<line x1="280.40" y1="309.50" x2="280.40" y2="312.70" stroke="#000" stroke-width="1"/>
<line x1="283.96" y1="309.50" x2="283.96" y2="312.70" stroke="#000" stroke-width="1"/>
<line x1="286.72" y1="309.50" x2="286.72" y2="312.70" stroke="#000" stroke-width="1"/>
<line x1="288.98" y1="309.50" x2="288.98" y2="312.70" stroke="#000" stroke-width="1"/>
<line x1="290.89" y1="309.50" x2="290.89" y2="312.70" stroke="#000" stroke-width="1"/>
<line x1="292.54" y1="309.50" x2="292.54" y2="312.70" stroke="#000" stroke-width="1"/>
<line x1="294.00" y1="309.50" x2="294.00" y2="312.70" stroke="#000" stroke-width="1"/>
<line x1="303.88" y1="309.50" x2="303.88" y2="312.70" stroke="#000" stroke-width="1"/>
<line x1="184.50" y1="309.50" x2="184.50" y2="312.70" stroke="#000" stroke-width="1"/>
<line x1="186.50" y1="309.50" x2="186.50" y2="312.70" stroke="#000" stroke-width="1"/>
<line x1="189.50" y1="309.50" x2="189.50" y2="312.70" stroke="#000" stroke-width="1"/>
<line x1="192.50" y1="309.50" x2="192.50" y2="312.70" stroke="#000" stroke-width="1"/>
<line x1="195.50" y1="309.50" x2="195.50" y2="312.70" stroke="#000" stroke-width="1"/>
<line x1="198.50" y1="309.50" x2="198.50" y2="312.70" stroke="#000" stroke-width="1"/>
<line x1="201.50" y1="309.50" x2="201.50" y2="312.70" stroke="#000" stroke-width="1"/>
<line x1="204.50" y1="309.50" x2="204.50" y2="312.70" stroke="#000" stroke-width="1"/>
<line x1="207.50" y1="309.50" x2="207.50" y2="312.70" stroke="#000" stroke-width="1"/>
<text transform="translate(195.60,322.90) scale(0.8,0.97)" font-size="6.6" text-anchor="middle" font-weight="bold" style="stroke-width:0.25px">0</text>
<text transform="translate(210.30,322.90) scale(0.8,0.97)" font-size="6.6" text-anchor="end" font-weight="bold" style="stroke-width:0.25px">0</text>
<rect x="205.50" y="318.40" width="1" height="3.6" fill="#000"/>
<text x="210.70" y="318.90" font-size="4.2" font-weight="bold" style="stroke-width:0.25px">2</text>
<text transform="translate(239.00,322.90) scale(0.8,0.97)" font-size="6.6" text-anchor="end" font-weight="bold" style="stroke-width:0.25px">0</text>
<rect x="234.20" y="318.40" width="1" height="3.6" fill="#000"/>
<text x="239.40" y="318.90" font-size="4.2" font-weight="bold" style="stroke-width:0.25px">3</text>
<text transform="translate(267.70,322.90) scale(0.8,0.97)" font-size="6.6" text-anchor="end" font-weight="bold" style="stroke-width:0.25px">0</text>
<rect x="262.90" y="318.40" width="1" height="3.6" fill="#000"/>
<text x="268.10" y="318.90" font-size="4.2" font-weight="bold" style="stroke-width:0.25px">4</text>
<text transform="translate(296.20,322.90) scale(0.8,0.97)" font-size="6.6" text-anchor="end" font-weight="bold" style="stroke-width:0.25px">0</text>
<rect x="291.40" y="318.40" width="1" height="3.6" fill="#000"/>
<text x="296.60" y="318.90" font-size="4.2" font-weight="bold" style="stroke-width:0.25px">5</text>
<text transform="translate(309.0,96.9)" font-size="12.63" font-weight="normal" fill="#000" >NIK</text>
<text x="330.30" y="93.20" font-size="6.5" text-anchor="start" font-weight="normal" fill="#000" >+/+</text>
<text transform="translate(308.0,243.9)" font-size="12.63" font-weight="normal" fill="#000" >NIK</text>
<text x="329.50" y="239.80" font-size="6.5" text-anchor="start" font-weight="normal" fill="#000" >–/–</text>
<line x1="4.6" y1="95.5" x2="4.6" y2="205.5" stroke="#000" stroke-width="1.1"/>
<polygon points="4.8,90 1.4,96 8.2,96" fill="#fff" stroke="#000" stroke-width="0.9"/>
<text transform="translate(8.0,253.65) rotate(-90)" font-size="10.02" font-weight="normal" fill="#000" >% of Max</text>
<text transform="translate(46.88,331.8)" font-size="10.2" font-weight="normal" fill="#000" >CFSE</text>
<line x1="76.2" y1="327.5" x2="263.6" y2="327.5" stroke="#000" stroke-width="1.2"/>
<polygon points="263.6,324.1 269.9,327.4 263.6,330.7" fill="#fff" stroke="#000" stroke-width="0.9" stroke-linejoin="miter"/>
<polygon points="92.50,328.60 89.40,334.90 95.60,334.90" fill="#fff" stroke="#333" stroke-width="0.8"/>
<line x1="92.50" y1="334.90" x2="92.50" y2="343.60" stroke="#222" stroke-width="1.1"/>
<text x="92.50" y="355.00" font-size="10" text-anchor="middle" font-weight="normal" fill="#222" >5</text>
<polygon points="99.50,328.60 96.40,334.90 102.60,334.90" fill="#fff" stroke="#333" stroke-width="0.8"/>
<line x1="99.50" y1="334.90" x2="99.50" y2="343.60" stroke="#222" stroke-width="1.1"/>
<text x="99.50" y="355.00" font-size="10" text-anchor="middle" font-weight="normal" fill="#222" >4</text>
<polygon points="107.60,328.60 104.50,334.90 110.70,334.90" fill="#fff" stroke="#333" stroke-width="0.8"/>
<line x1="107.60" y1="334.90" x2="107.60" y2="343.60" stroke="#222" stroke-width="1.1"/>
<text x="107.60" y="355.00" font-size="10" text-anchor="middle" font-weight="normal" fill="#222" >3</text>
<polygon points="116.40,328.60 113.30,334.90 119.50,334.90" fill="#fff" stroke="#333" stroke-width="0.8"/>
<line x1="116.40" y1="334.90" x2="116.40" y2="343.60" stroke="#222" stroke-width="1.1"/>
<text x="116.40" y="355.00" font-size="10" text-anchor="middle" font-weight="normal" fill="#222" >2</text>
<polygon points="125.40,328.60 122.30,334.90 128.50,334.90" fill="#fff" stroke="#333" stroke-width="0.8"/>
<line x1="125.40" y1="334.90" x2="125.40" y2="343.60" stroke="#222" stroke-width="1.1"/>
<text x="125.40" y="355.00" font-size="10" text-anchor="middle" font-weight="normal" fill="#222" >1</text>
<polygon points="236.70,329.30 233.60,335.10 239.80,335.10" fill="#fff" stroke="#333" stroke-width="0.8"/>
<line x1="236.70" y1="335.10" x2="236.70" y2="343.30" stroke="#222" stroke-width="1.1"/>
<text x="236.70" y="354.60" font-size="10" text-anchor="middle" font-weight="normal" fill="#222" >5</text>
<polygon points="244.50,329.30 241.40,335.10 247.60,335.10" fill="#fff" stroke="#333" stroke-width="0.8"/>
<line x1="244.50" y1="335.10" x2="244.50" y2="343.30" stroke="#222" stroke-width="1.1"/>
<text x="244.50" y="354.60" font-size="10" text-anchor="middle" font-weight="normal" fill="#222" >4</text>
<polygon points="252.50,329.30 249.40,335.10 255.60,335.10" fill="#fff" stroke="#333" stroke-width="0.8"/>
<line x1="252.50" y1="335.10" x2="252.50" y2="343.30" stroke="#222" stroke-width="1.1"/>
<text x="252.50" y="354.60" font-size="10" text-anchor="middle" font-weight="normal" fill="#222" >3</text>
<polygon points="260.50,329.30 257.40,335.10 263.60,335.10" fill="#fff" stroke="#333" stroke-width="0.8"/>
<line x1="260.50" y1="335.10" x2="260.50" y2="343.30" stroke="#222" stroke-width="1.1"/>
<text x="260.50" y="354.60" font-size="10" text-anchor="middle" font-weight="normal" fill="#222" >2</text>
<polygon points="270.40,329.30 267.30,335.10 273.50,335.10" fill="#fff" stroke="#333" stroke-width="0.8"/>
<line x1="270.40" y1="335.10" x2="270.40" y2="343.30" stroke="#222" stroke-width="1.1"/>
<text x="270.40" y="354.60" font-size="10" text-anchor="middle" font-weight="normal" fill="#222" >1</text>
<text transform="translate(348.07,13.8)" font-size="15.9" font-weight="bold" fill="#000" >B</text>
<text transform="translate(348.38,279.88)" font-size="16.88" font-weight="bold" fill="#000" >C</text>
<line x1="384.75" y1="7.20" x2="384.75" y2="79.20" stroke="#d2d2d2" stroke-width="1"/>
<line x1="384.75" y1="79.20" x2="436.50" y2="79.20" stroke="#d2d2d2" stroke-width="1"/>
<line x1="383.25" y1="79.20" x2="384.75" y2="79.20" stroke="#d2d2d2" stroke-width="0.8"/>
<text x="382.40" y="82.10" font-size="8.2" text-anchor="end" font-weight="normal" fill="#111" >0</text>
<line x1="383.25" y1="61.20" x2="384.75" y2="61.20" stroke="#d2d2d2" stroke-width="0.8"/>
<text x="382.40" y="64.10" font-size="8.2" text-anchor="end" font-weight="normal" fill="#111" >10</text>
<line x1="383.25" y1="43.20" x2="384.75" y2="43.20" stroke="#d2d2d2" stroke-width="0.8"/>
<text x="382.40" y="46.10" font-size="8.2" text-anchor="end" font-weight="normal" fill="#111" >20</text>
<line x1="383.25" y1="25.20" x2="384.75" y2="25.20" stroke="#d2d2d2" stroke-width="0.8"/>
<text x="382.40" y="28.10" font-size="8.2" text-anchor="end" font-weight="normal" fill="#111" >30</text>
<line x1="383.25" y1="7.20" x2="384.75" y2="7.20" stroke="#d2d2d2" stroke-width="0.8"/>
<text x="382.40" y="10.10" font-size="8.2" text-anchor="end" font-weight="normal" fill="#111" >40</text>
<rect x="391.10" y="76.20" width="9.80" height="3.00" fill="#b0b0b0" stroke="#6a6a6a" stroke-width="0.9"/>
<rect x="400.90" y="23.70" width="9.60" height="55.50" fill="#fff" stroke="#6a6a6a" stroke-width="0.9"/>
<rect x="410.50" y="78.80" width="9.50" height="0.40" fill="#000"/>
<rect x="420.00" y="77.30" width="9.40" height="1.90" fill="#000"/>
<text transform="translate(370.85,55.25) rotate(-90)" font-size="10.76" font-weight="normal" fill="#111" >IL-17A</text>
<rect x="391.3" y="1.6" width="5.2" height="4.8" fill="#fff" stroke="#333" stroke-width="0.8"/>
<text transform="translate(398.43,7.82)" font-size="8.82" font-weight="normal" fill="#333" >NIK</text>
<text x="413.60" y="5.40" font-size="4.8" text-anchor="start" font-weight="normal" fill="#333" >+/+</text>
<rect x="391" y="10.8" width="5.7" height="5.3" fill="#000"/>
<text transform="translate(398.43,16.95)" font-size="8.82" font-weight="normal" fill="#333" >NIK</text>
<text x="413.60" y="14.00" font-size="4.8" text-anchor="start" font-weight="normal" fill="#333" >–/–</text>
<line x1="466.90" y1="7.80" x2="466.90" y2="78.60" stroke="#d2d2d2" stroke-width="1"/>
<line x1="466.90" y1="78.60" x2="519.50" y2="78.60" stroke="#d2d2d2" stroke-width="1"/>
<line x1="465.40" y1="78.60" x2="466.90" y2="78.60" stroke="#d2d2d2" stroke-width="0.8"/>
<text x="463.80" y="81.50" font-size="8.2" text-anchor="end" font-weight="normal" fill="#111" >0</text>
<line x1="465.40" y1="60.90" x2="466.90" y2="60.90" stroke="#d2d2d2" stroke-width="0.8"/>
<text x="463.80" y="63.80" font-size="8.2" text-anchor="end" font-weight="normal" fill="#111" >20</text>
<line x1="465.40" y1="43.20" x2="466.90" y2="43.20" stroke="#d2d2d2" stroke-width="0.8"/>
<text x="463.80" y="46.10" font-size="8.2" text-anchor="end" font-weight="normal" fill="#111" >40</text>
<line x1="465.40" y1="25.50" x2="466.90" y2="25.50" stroke="#d2d2d2" stroke-width="0.8"/>
<text x="463.80" y="28.40" font-size="8.2" text-anchor="end" font-weight="normal" fill="#111" >60</text>
<line x1="465.40" y1="7.80" x2="466.90" y2="7.80" stroke="#d2d2d2" stroke-width="0.8"/>
<text x="463.80" y="10.70" font-size="8.2" text-anchor="end" font-weight="normal" fill="#111" >80</text>
<rect x="474.00" y="77.60" width="9.70" height="1.00" fill="#000"/>
<rect x="483.70" y="26.90" width="9.60" height="51.70" fill="#fff" stroke="#6a6a6a" stroke-width="0.9"/>
<line x1="488.50" y1="22.50" x2="488.50" y2="33.75" stroke="#9a9a9a" stroke-width="0.7"/>
<line x1="486.30" y1="22.50" x2="490.70" y2="22.50" stroke="#9a9a9a" stroke-width="0.7"/>
<line x1="486.30" y1="33.75" x2="490.70" y2="33.75" stroke="#9a9a9a" stroke-width="0.7"/>
<rect x="493.30" y="78.10" width="9.40" height="0.50" fill="#000"/>
<rect x="502.90" y="71.00" width="9.00" height="7.60" fill="#000"/>
<text transform="translate(449.4,54.25) rotate(-90)" font-size="10.56" font-weight="normal" fill="#111" >IL-17F</text>
<line x1="385.60" y1="87.42" x2="385.60" y2="157.00" stroke="#d2d2d2" stroke-width="1"/>
<line x1="385.60" y1="157.00" x2="436.30" y2="157.00" stroke="#d2d2d2" stroke-width="1"/>
<line x1="384.10" y1="157.00" x2="385.60" y2="157.00" stroke="#d2d2d2" stroke-width="0.8"/>
<text x="382.30" y="159.90" font-size="8.2" text-anchor="end" font-weight="normal" fill="#111" >0</text>
<line x1="384.10" y1="147.06" x2="385.60" y2="147.06" stroke="#d2d2d2" stroke-width="0.8"/>
<text x="382.30" y="149.96" font-size="8.2" text-anchor="end" font-weight="normal" fill="#111" >2000</text>
<line x1="384.10" y1="137.12" x2="385.60" y2="137.12" stroke="#d2d2d2" stroke-width="0.8"/>
<text x="382.30" y="140.02" font-size="8.2" text-anchor="end" font-weight="normal" fill="#111" >4000</text>
<line x1="384.10" y1="127.18" x2="385.60" y2="127.18" stroke="#d2d2d2" stroke-width="0.8"/>
<text x="382.30" y="130.08" font-size="8.2" text-anchor="end" font-weight="normal" fill="#111" >6000</text>
<line x1="384.10" y1="117.24" x2="385.60" y2="117.24" stroke="#d2d2d2" stroke-width="0.8"/>
<text x="382.30" y="120.14" font-size="8.2" text-anchor="end" font-weight="normal" fill="#111" >8000</text>
<line x1="384.10" y1="107.30" x2="385.60" y2="107.30" stroke="#d2d2d2" stroke-width="0.8"/>
<text x="382.30" y="110.20" font-size="8.2" text-anchor="end" font-weight="normal" fill="#111" >10000</text>
<line x1="384.10" y1="97.36" x2="385.60" y2="97.36" stroke="#d2d2d2" stroke-width="0.8"/>
<text x="382.30" y="100.26" font-size="8.2" text-anchor="end" font-weight="normal" fill="#111" >12000</text>
<line x1="384.10" y1="87.42" x2="385.60" y2="87.42" stroke="#d2d2d2" stroke-width="0.8"/>
<text x="382.30" y="90.32" font-size="8.2" text-anchor="end" font-weight="normal" fill="#111" >14000</text>
<rect x="401.30" y="102.00" width="9.40" height="55.00" fill="#fff" stroke="#6a6a6a" stroke-width="0.9"/>
<line x1="406.00" y1="96.10" x2="406.00" y2="108.60" stroke="#9a9a9a" stroke-width="0.7"/>
<line x1="403.80" y1="96.10" x2="408.20" y2="96.10" stroke="#9a9a9a" stroke-width="0.7"/>
<line x1="403.80" y1="108.60" x2="408.20" y2="108.60" stroke="#9a9a9a" stroke-width="0.7"/>
<rect x="420.10" y="135.50" width="9.20" height="21.50" fill="#000"/>
<line x1="424.70" y1="130.80" x2="424.70" y2="135.50" stroke="#9a9a9a" stroke-width="0.7"/>
<line x1="422.50" y1="130.80" x2="426.90" y2="130.80" stroke="#9a9a9a" stroke-width="0.7"/>
<text transform="translate(357.23,130.15) rotate(-90)" font-size="11.19" font-weight="normal" fill="#111" >IL-21</text>
<line x1="468.20" y1="86.25" x2="468.20" y2="156.60" stroke="#d2d2d2" stroke-width="1"/>
<line x1="468.20" y1="156.60" x2="519.50" y2="156.60" stroke="#d2d2d2" stroke-width="1"/>
<line x1="466.70" y1="156.60" x2="468.20" y2="156.60" stroke="#d2d2d2" stroke-width="0.8"/>
<text x="464.60" y="159.50" font-size="8.2" text-anchor="end" font-weight="normal" fill="#111" >0</text>
<line x1="466.70" y1="142.53" x2="468.20" y2="142.53" stroke="#d2d2d2" stroke-width="0.8"/>
<text x="464.60" y="145.43" font-size="8.2" text-anchor="end" font-weight="normal" fill="#111" >20</text>
<line x1="466.70" y1="128.46" x2="468.20" y2="128.46" stroke="#d2d2d2" stroke-width="0.8"/>
<text x="464.60" y="131.36" font-size="8.2" text-anchor="end" font-weight="normal" fill="#111" >40</text>
<line x1="466.70" y1="114.39" x2="468.20" y2="114.39" stroke="#d2d2d2" stroke-width="0.8"/>
<text x="464.60" y="117.29" font-size="8.2" text-anchor="end" font-weight="normal" fill="#111" >60</text>
<line x1="466.70" y1="100.32" x2="468.20" y2="100.32" stroke="#d2d2d2" stroke-width="0.8"/>
<text x="464.60" y="103.22" font-size="8.2" text-anchor="end" font-weight="normal" fill="#111" >80</text>
<line x1="466.70" y1="86.25" x2="468.20" y2="86.25" stroke="#d2d2d2" stroke-width="0.8"/>
<text x="464.60" y="89.15" font-size="8.2" text-anchor="end" font-weight="normal" fill="#111" >100</text>
<rect x="474.40" y="155.60" width="9.30" height="1.00" fill="#000"/>
<rect x="483.70" y="101.25" width="10.30" height="55.35" fill="#fff" stroke="#6a6a6a" stroke-width="0.9"/>
<line x1="488.85" y1="99.40" x2="488.85" y2="103.50" stroke="#9a9a9a" stroke-width="0.7"/>
<line x1="486.65" y1="99.40" x2="491.05" y2="99.40" stroke="#9a9a9a" stroke-width="0.7"/>
<line x1="486.65" y1="103.50" x2="491.05" y2="103.50" stroke="#9a9a9a" stroke-width="0.7"/>
<rect x="503.30" y="151.30" width="8.30" height="5.30" fill="#000"/>
<text transform="translate(451.4,129.85) rotate(-90)" font-size="10.44" font-weight="normal" fill="#111" >IL-22</text>
<line x1="385.40" y1="165.50" x2="385.40" y2="236.00" stroke="#d2d2d2" stroke-width="1"/>
<line x1="385.40" y1="236.00" x2="437.50" y2="236.00" stroke="#d2d2d2" stroke-width="1"/>
<line x1="383.90" y1="236.00" x2="385.40" y2="236.00" stroke="#d2d2d2" stroke-width="0.8"/>
<text x="381.50" y="238.90" font-size="8.2" text-anchor="end" font-weight="normal" fill="#111" >0</text>
<line x1="383.90" y1="221.90" x2="385.40" y2="221.90" stroke="#d2d2d2" stroke-width="0.8"/>
<text x="381.50" y="224.80" font-size="8.2" text-anchor="end" font-weight="normal" fill="#111" >5</text>
<line x1="383.90" y1="207.80" x2="385.40" y2="207.80" stroke="#d2d2d2" stroke-width="0.8"/>
<text x="381.50" y="210.70" font-size="8.2" text-anchor="end" font-weight="normal" fill="#111" >10</text>
<line x1="383.90" y1="193.70" x2="385.40" y2="193.70" stroke="#d2d2d2" stroke-width="0.8"/>
<text x="381.50" y="196.60" font-size="8.2" text-anchor="end" font-weight="normal" fill="#111" >15</text>
<line x1="383.90" y1="179.60" x2="385.40" y2="179.60" stroke="#d2d2d2" stroke-width="0.8"/>
<text x="381.50" y="182.50" font-size="8.2" text-anchor="end" font-weight="normal" fill="#111" >20</text>
<line x1="383.90" y1="165.50" x2="385.40" y2="165.50" stroke="#d2d2d2" stroke-width="0.8"/>
<text x="381.50" y="168.40" font-size="8.2" text-anchor="end" font-weight="normal" fill="#111" >25</text>
<rect x="391.90" y="233.10" width="9.60" height="2.90" fill="#fff" stroke="#6a6a6a" stroke-width="0.9"/>
<rect x="401.50" y="170.00" width="9.10" height="66.00" fill="#fff" stroke="#6a6a6a" stroke-width="0.9"/>
<line x1="406.05" y1="168.80" x2="406.05" y2="171.40" stroke="#9a9a9a" stroke-width="0.7"/>
<line x1="403.85" y1="168.80" x2="408.25" y2="168.80" stroke="#9a9a9a" stroke-width="0.7"/>
<line x1="403.85" y1="171.40" x2="408.25" y2="171.40" stroke="#9a9a9a" stroke-width="0.7"/>
<rect x="410.60" y="233.80" width="9.40" height="2.20" fill="#000"/>
<rect x="420.00" y="205.25" width="9.40" height="30.75" fill="#000"/>
<line x1="424.70" y1="203.20" x2="424.70" y2="205.25" stroke="#9a9a9a" stroke-width="0.7"/>
<line x1="422.50" y1="203.20" x2="426.90" y2="203.20" stroke="#9a9a9a" stroke-width="0.7"/>
<text transform="translate(368.4,210.05) rotate(-90)" font-size="10.86" font-weight="normal" fill="#111" >RORγt</text>
<line x1="467.80" y1="165.20" x2="467.80" y2="236.70" stroke="#d2d2d2" stroke-width="1"/>
<line x1="467.80" y1="236.70" x2="520.00" y2="236.70" stroke="#d2d2d2" stroke-width="1"/>
<line x1="466.30" y1="236.70" x2="467.80" y2="236.70" stroke="#d2d2d2" stroke-width="0.8"/>
<text x="464.80" y="239.60" font-size="8.2" text-anchor="end" font-weight="normal" fill="#111" >0</text>
<line x1="466.30" y1="218.82" x2="467.80" y2="218.82" stroke="#d2d2d2" stroke-width="0.8"/>
<text x="464.80" y="221.72" font-size="8.2" text-anchor="end" font-weight="normal" fill="#111" >50</text>
<line x1="466.30" y1="200.95" x2="467.80" y2="200.95" stroke="#d2d2d2" stroke-width="0.8"/>
<text x="464.80" y="203.85" font-size="8.2" text-anchor="end" font-weight="normal" fill="#111" >100</text>
<line x1="466.30" y1="183.07" x2="467.80" y2="183.07" stroke="#d2d2d2" stroke-width="0.8"/>
<text x="464.80" y="185.97" font-size="8.2" text-anchor="end" font-weight="normal" fill="#111" >150</text>
<line x1="466.30" y1="165.20" x2="467.80" y2="165.20" stroke="#d2d2d2" stroke-width="0.8"/>
<text x="464.80" y="168.10" font-size="8.2" text-anchor="end" font-weight="normal" fill="#111" >200</text>
<rect x="474.20" y="235.70" width="9.60" height="1.00" fill="#000"/>
<rect x="483.80" y="182.00" width="9.50" height="54.70" fill="#fff" stroke="#6a6a6a" stroke-width="0.9"/>
<line x1="488.55" y1="172.00" x2="488.55" y2="192.50" stroke="#9a9a9a" stroke-width="0.7"/>
<line x1="486.35" y1="172.00" x2="490.75" y2="172.00" stroke="#9a9a9a" stroke-width="0.7"/>
<line x1="486.35" y1="192.50" x2="490.75" y2="192.50" stroke="#9a9a9a" stroke-width="0.7"/>
<rect x="503.00" y="233.30" width="9.00" height="3.40" fill="#000"/>
<text transform="translate(448.85,213.45) rotate(-90)" font-size="10.19" font-weight="normal" fill="#111" >IL-23R</text>
<text transform="translate(393.8,255.6) rotate(-64)" font-size="9.3" font-weight="normal" fill="#111" >Th0</text>
<text transform="translate(401.9,257.65) rotate(-64)" font-size="7.8" font-weight="normal" fill="#111" >Th1</text>
<text transform="translate(412.05,261.95) rotate(-64)" font-size="7.8" font-weight="normal" fill="#111" >7</text>
<text transform="translate(415.5,255.6) rotate(-64)" font-size="9.3" font-weight="normal" fill="#111" >Th0</text>
<text transform="translate(422.8,257.65) rotate(-64)" font-size="7.8" font-weight="normal" fill="#111" >Th1</text>
<text transform="translate(433.15,261.95) rotate(-64)" font-size="7.8" font-weight="normal" fill="#111" >7</text>
<text transform="translate(476.23,256.55) rotate(-64)" font-size="9.3" font-weight="normal" fill="#111" >Th0</text>
<text transform="translate(484.5,258.35) rotate(-64)" font-size="7.8" font-weight="normal" fill="#111" >Th1</text>
<text transform="translate(494.45,263.1) rotate(-64)" font-size="7.8" font-weight="normal" fill="#111" >7</text>
<text transform="translate(496.9,256.15) rotate(-64)" font-size="9.3" font-weight="normal" fill="#111" >Th0</text>
<text transform="translate(505.75,258.35) rotate(-64)" font-size="7.8" font-weight="normal" fill="#111" >Th1</text>
<text transform="translate(515.4,263.1) rotate(-64)" font-size="7.8" font-weight="normal" fill="#111" >7</text>
<text transform="translate(359.95,250.9) scale(1,1.13)" font-size="9.94" fill="#111">Th0</text>
<line x1="386.25" y1="277.26" x2="386.25" y2="345.00" stroke="#d2d2d2" stroke-width="1"/>
<line x1="386.25" y1="345.00" x2="438.75" y2="345.00" stroke="#d2d2d2" stroke-width="1"/>
<line x1="384.75" y1="345.00" x2="386.25" y2="345.00" stroke="#d2d2d2" stroke-width="0.8"/>
<text x="382.50" y="347.90" font-size="8.2" text-anchor="end" font-weight="normal" fill="#111" >0</text>
<line x1="384.75" y1="333.71" x2="386.25" y2="333.71" stroke="#d2d2d2" stroke-width="0.8"/>
<text x="382.50" y="336.61" font-size="8.2" text-anchor="end" font-weight="normal" fill="#111" >10</text>
<line x1="384.75" y1="322.42" x2="386.25" y2="322.42" stroke="#d2d2d2" stroke-width="0.8"/>
<text x="382.50" y="325.32" font-size="8.2" text-anchor="end" font-weight="normal" fill="#111" >20</text>
<line x1="384.75" y1="311.13" x2="386.25" y2="311.13" stroke="#d2d2d2" stroke-width="0.8"/>
<text x="382.50" y="314.03" font-size="8.2" text-anchor="end" font-weight="normal" fill="#111" >30</text>
<line x1="384.75" y1="299.84" x2="386.25" y2="299.84" stroke="#d2d2d2" stroke-width="0.8"/>
<text x="382.50" y="302.74" font-size="8.2" text-anchor="end" font-weight="normal" fill="#111" >40</text>
<line x1="384.75" y1="288.55" x2="386.25" y2="288.55" stroke="#d2d2d2" stroke-width="0.8"/>
<text x="382.50" y="291.45" font-size="8.2" text-anchor="end" font-weight="normal" fill="#111" >50</text>
<line x1="384.75" y1="277.26" x2="386.25" y2="277.26" stroke="#d2d2d2" stroke-width="0.8"/>
<text x="382.50" y="280.16" font-size="8.2" text-anchor="end" font-weight="normal" fill="#111" >60</text>
<rect x="392.50" y="344.00" width="10.00" height="1.00" fill="#fff" stroke="#6a6a6a" stroke-width="0.9"/>
<rect x="402.50" y="294.25" width="9.40" height="50.75" fill="#fff" stroke="#6a6a6a" stroke-width="0.9"/>
<line x1="407.20" y1="285.10" x2="407.20" y2="304.50" stroke="#9a9a9a" stroke-width="0.7"/>
<line x1="405.00" y1="285.10" x2="409.40" y2="285.10" stroke="#9a9a9a" stroke-width="0.7"/>
<line x1="405.00" y1="304.50" x2="409.40" y2="304.50" stroke="#9a9a9a" stroke-width="0.7"/>
<rect x="415.00" y="344.30" width="3.00" height="0.70" fill="#000"/>
<rect x="421.25" y="343.75" width="8.75" height="1.25" fill="#000"/>
<line x1="425.62" y1="343.00" x2="425.62" y2="343.75" stroke="#9a9a9a" stroke-width="0.7"/>
<line x1="423.43" y1="343.00" x2="427.82" y2="343.00" stroke="#9a9a9a" stroke-width="0.7"/>
<text transform="translate(372.38,323.45) rotate(-90)" font-size="10.19" font-weight="normal" fill="#111" >IL-17A</text>
<text transform="translate(394.75,363.6) rotate(-64)" font-size="9.3" font-weight="normal" fill="#111" >Th0</text>
<text transform="translate(402.8,365.85) rotate(-64)" font-size="7.8" font-weight="normal" fill="#111" >Th1</text>
<text transform="translate(412.9,370.45) rotate(-64)" font-size="7.8" font-weight="normal" fill="#111" >7</text>
<text transform="translate(415.8,363.65) rotate(-64)" font-size="9.3" font-weight="normal" fill="#111" >Th0</text>
<text transform="translate(424.0,365.95) rotate(-64)" font-size="7.8" font-weight="normal" fill="#111" >Th1</text>
<text transform="translate(433.95,370.45) rotate(-64)" font-size="7.8" font-weight="normal" fill="#111" >7</text>
<rect x="389" y="268.8" width="5.2" height="4.9" fill="#fff" stroke="#333" stroke-width="0.8"/>
<text transform="translate(395.3,275.0)" font-size="8.85" font-weight="normal" fill="#333" >NIK</text>
<text x="410.20" y="272.70" font-size="4.8" text-anchor="start" font-weight="normal" fill="#333" >+/+</text>
<rect x="388.75" y="277.4" width="5.7" height="5.3" fill="#000"/>
<text transform="translate(395.3,283.75)" font-size="8.85" font-weight="normal" fill="#333" >NIK</text>
<text x="410.20" y="280.70" font-size="4.8" text-anchor="start" font-weight="normal" fill="#333" >–/–</text>
<line x1="470.50" y1="276.44" x2="470.50" y2="344.30" stroke="#d2d2d2" stroke-width="1"/>
<line x1="470.50" y1="344.30" x2="513.75" y2="344.30" stroke="#d2d2d2" stroke-width="1"/>
<line x1="469.00" y1="344.30" x2="470.50" y2="344.30" stroke="#d2d2d2" stroke-width="0.8"/>
<text x="468.40" y="347.20" font-size="7.7" text-anchor="end" font-weight="normal" fill="#111" style="stroke-width:0.12px">0</text>
<line x1="469.00" y1="336.76" x2="470.50" y2="336.76" stroke="#d2d2d2" stroke-width="0.8"/>
<text x="468.40" y="339.66" font-size="7.7" text-anchor="end" font-weight="normal" fill="#111" style="stroke-width:0.12px">20</text>
<line x1="469.00" y1="329.22" x2="470.50" y2="329.22" stroke="#d2d2d2" stroke-width="0.8"/>
<text x="468.40" y="332.12" font-size="7.7" text-anchor="end" font-weight="normal" fill="#111" style="stroke-width:0.12px">40</text>
<line x1="469.00" y1="321.68" x2="470.50" y2="321.68" stroke="#d2d2d2" stroke-width="0.8"/>
<text x="468.40" y="324.58" font-size="7.7" text-anchor="end" font-weight="normal" fill="#111" style="stroke-width:0.12px">60</text>
<line x1="469.00" y1="314.14" x2="470.50" y2="314.14" stroke="#d2d2d2" stroke-width="0.8"/>
<text x="468.40" y="317.04" font-size="7.7" text-anchor="end" font-weight="normal" fill="#111" style="stroke-width:0.12px">80</text>
<line x1="469.00" y1="306.60" x2="470.50" y2="306.60" stroke="#d2d2d2" stroke-width="0.8"/>
<text x="468.40" y="309.50" font-size="7.7" text-anchor="end" font-weight="normal" fill="#111" style="stroke-width:0.12px">100</text>
<line x1="469.00" y1="299.06" x2="470.50" y2="299.06" stroke="#d2d2d2" stroke-width="0.8"/>
<text x="468.40" y="301.96" font-size="7.7" text-anchor="end" font-weight="normal" fill="#111" style="stroke-width:0.12px">120</text>
<line x1="469.00" y1="291.52" x2="470.50" y2="291.52" stroke="#d2d2d2" stroke-width="0.8"/>
<text x="468.40" y="294.42" font-size="7.7" text-anchor="end" font-weight="normal" fill="#111" style="stroke-width:0.12px">140</text>
<line x1="469.00" y1="283.98" x2="470.50" y2="283.98" stroke="#d2d2d2" stroke-width="0.8"/>
<text x="468.40" y="286.88" font-size="7.7" text-anchor="end" font-weight="normal" fill="#111" style="stroke-width:0.12px">160</text>
<line x1="469.00" y1="276.44" x2="470.50" y2="276.44" stroke="#d2d2d2" stroke-width="0.8"/>
<text x="468.40" y="279.34" font-size="7.7" text-anchor="end" font-weight="normal" fill="#111" style="stroke-width:0.12px">180</text>
<rect x="477.50" y="343.60" width="9.40" height="0.70" fill="#000"/>
<rect x="487.20" y="339.60" width="9.70" height="4.70" fill="#000"/>
<rect x="496.90" y="286.30" width="9.10" height="58.00" fill="#000"/>
<line x1="501.45" y1="279.70" x2="501.45" y2="286.30" stroke="#9a9a9a" stroke-width="0.7"/>
<line x1="499.25" y1="279.70" x2="503.65" y2="279.70" stroke="#9a9a9a" stroke-width="0.7"/>
<text transform="translate(452.8,325.25) rotate(-90)" font-size="10.76" font-weight="normal" fill="#111" >IL-17A</text>
<text transform="translate(480.5,364.05) rotate(-68)" font-size="8.5" font-weight="normal" fill="#111" >GFP</text>
<text transform="translate(489.5,364.6) rotate(-68)" font-size="8.5" font-weight="normal" fill="#111" >GFP</text>
<text transform="translate(500.2,361.9) rotate(-68)" font-size="8.5" font-weight="normal" fill="#111" >NIK</text>
<text transform="translate(448.7,358.5) scale(1.02,1.14)" font-size="8.06" fill="#111">Infect</text>
<polyline points="469.5,361.2 469.5,365.9 505.5,365.9 505.5,361.2" fill="none" stroke="#000" stroke-width="1.2"/>
<line x1="482.8" y1="361.2" x2="482.8" y2="365.9" stroke="#000" stroke-width="1.2"/>
<text transform="translate(469.2,374.75)" font-size="8.7" font-weight="normal" fill="#111" >Th0 Th17</text>
</svg>
</body></html>
